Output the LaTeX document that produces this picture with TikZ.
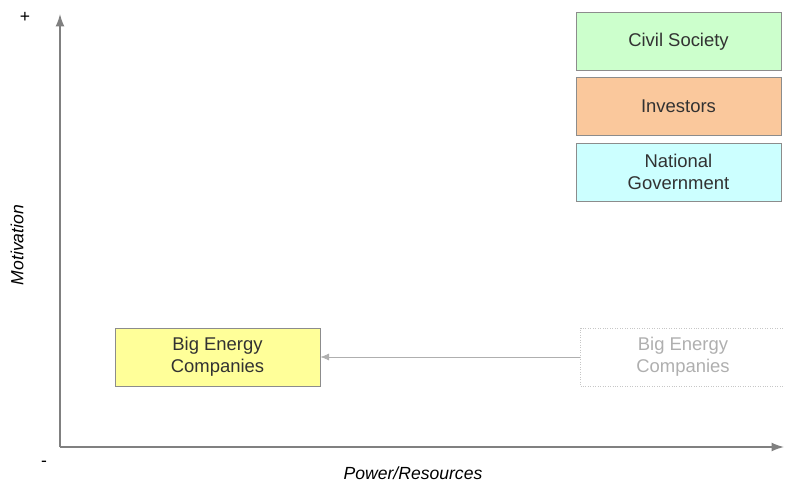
\documentclass[tikz,border=0pt]{standalone}
\usepackage{fontspec}
\setmainfont{Liberation Sans}
\usetikzlibrary{arrows.meta,
                positioning}

\definecolor{boxline}{RGB}{140,140,140}
\definecolor{boxtext}{RGB}{50,50,50}
\definecolor{civilfill}{RGB}{204,255,204}
\definecolor{investfill}{RGB}{250,200,156}
\definecolor{govfill}{RGB}{204,255,255}
\definecolor{energyfill}{RGB}{255,255,153}
\definecolor{ghostgray}{RGB}{175,175,175}

\tikzset{actor/.style = {draw=boxline, text=boxtext, align=center,
                         minimum width=4.1cm, minimum height=1.16cm,
                         font=\fontsize{10.5}{12.5}\selectfont},
         ghost/.style = {actor, draw=ghostgray!70, densely dotted,
                         text=ghostgray},
         axis/.style  = {-{Latex[length=7pt,width=5pt]}, draw=gray, thick}}

\begin{document}
\begin{tikzpicture}% 
    [x = 0.02cm, y = -0.02cm]
    \useasboundingbox (0,0) rectangle (785,481);

    \coordinate (origin) at (60,447);
    \coordinate (ytop)   at (60,14);
    \coordinate (xend)   at (784,447);
    \draw [axis] (origin) -- (ytop);
    \draw [axis] (origin) -- (xend);

    \node (plus)   at (25,17)  {+};
    \node (minus)  at (44,464) {-};
    \node [rotate=90, font=\itshape] (motiv) at (17,245) {Motivation};
    \node [font=\itshape] (power) at (413,473) {Power/Resources};

    \node [actor, fill=civilfill]  (civil)  at (678.5,41.5) {Civil Society};
    \node [actor, fill=investfill, below=0.13cm of civil] (invest) {Investors};
    \node [actor, fill=govfill, below=0.13cm of invest] (gov) {National\\Government};

    \node [actor, fill=energyfill] (energy) at (217.5,357) {Big Energy\\Companies};
    \node [ghost] (oldenergy) at (683,357) {Big Energy\\Companies};

    \draw [-{Latex[length=5pt,width=4pt]}, draw=ghostgray, thin] (oldenergy) -- (energy);
\end{tikzpicture}
\end{document}
